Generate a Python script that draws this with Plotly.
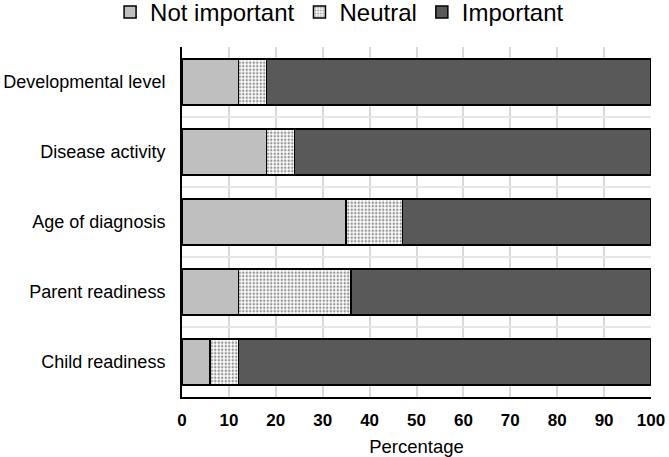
import plotly.graph_objects as go

categories = ["Developmental level", "Disease activity", "Age of diagnosis", "Parent readiness", "Child readiness"]
not_important = [12, 18, 35, 12, 6]
neutral = [6, 6, 12, 24, 6]
important = [82, 76, 53, 64, 88]
x_ticks = list(range(0, 101, 10))

FONT = "Liberation Sans, Arial, sans-serif"

fig = go.Figure()
line = dict(color="black", width=1.5)
fig.add_trace(go.Bar(y=categories, x=not_important, name="Not important", orientation="h",
                     marker=dict(color="#bfbfbf", line=line)))
fig.add_trace(go.Bar(y=categories, x=neutral, name="Neutral", orientation="h",
                     marker=dict(color="white", line=line,
                                 pattern=dict(shape=".", fgcolor="#2a2a2a", bgcolor="white",
                                              size=3.5, solidity=0.4))))
fig.add_trace(go.Bar(y=categories, x=important, name="Important", orientation="h",
                     marker=dict(color="#595959", line=line)))

fig.update_layout(
    width=669, height=457,
    barmode="stack", bargap=0.34,
    plot_bgcolor="white", paper_bgcolor="white",
    margin=dict(l=182, r=18, t=47, b=60, autoexpand=False),
    font=dict(family=FONT, color="black"),
    legend=dict(orientation="h", xref="paper", x=0.336, xanchor="center",
                yref="paper", y=1.099, yanchor="middle",
                font=dict(size=24), traceorder="normal", itemwidth=30,
                tracegroupgap=0),
    xaxis=dict(range=[0, 100], tickvals=x_ticks, showgrid=True, gridcolor="#d9d9d9",
               gridwidth=1.5, showline=True, linecolor="black", linewidth=2,
               ticks="", automargin=False, ticklabelstandoff=7,
               tickfont=dict(size=17, family=FONT, weight="bold"),
               title=dict(text="Percentage", font=dict(size=18.5), standoff=11), zeroline=False),
    yaxis=dict(categoryorder="array", categoryarray=categories[::-1],
               showgrid=True, gridcolor="#e6e6e6", gridwidth=1.5, tickson="boundaries",
               showline=True, linecolor="black", linewidth=2, ticks="", automargin=False,
               tickfont=dict(size=18), ticklabelstandoff=11),
)
fig.write_html("out.html", config={"displayModeBar": False},
               post_script="document.body.style.margin='0';")
